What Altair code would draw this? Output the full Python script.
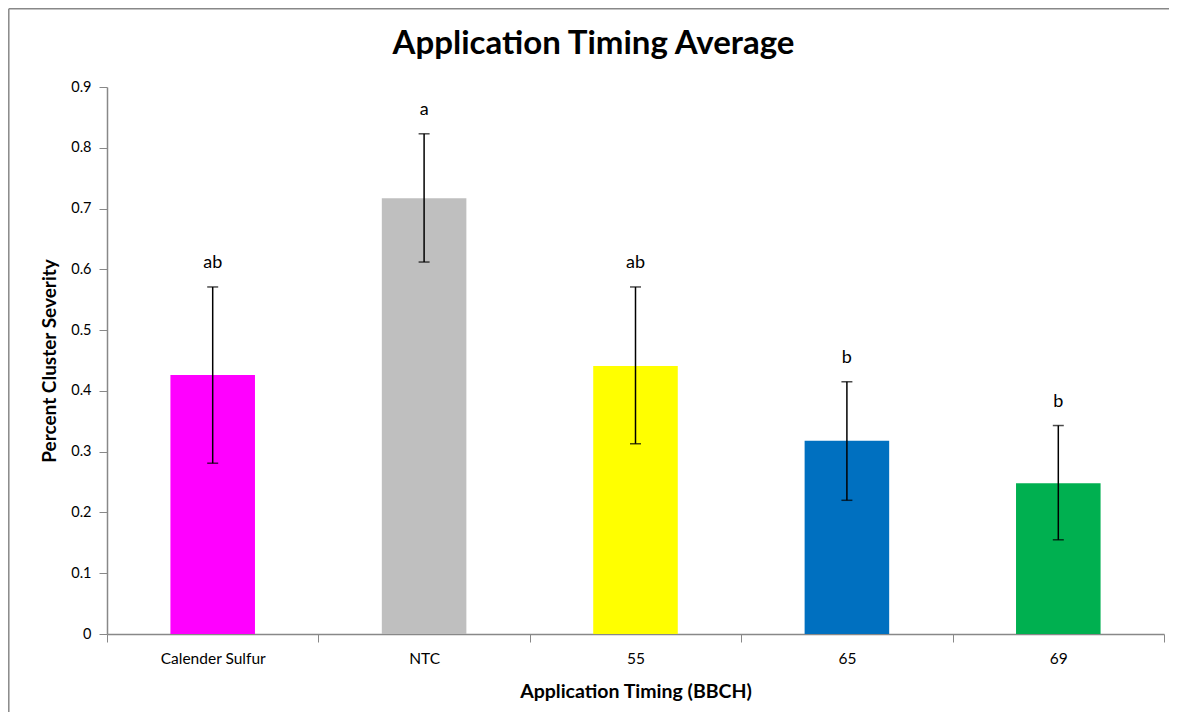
import altair as alt
import pandas as pd

categories = ["Calender Sulfur", "NTC", "55", "65", "69"]
means = [0.426, 0.717, 0.441, 0.318, 0.248]
err_low = [0.281, 0.612, 0.313, 0.220, 0.155]
err_high = [0.571, 0.823, 0.571, 0.415, 0.343]
letters = ["ab", "a", "ab", "b", "b"]
colors = ["#FF00FF", "#BFBFBF", "#FFFF00", "#0070C0", "#00B050"]
chart_title = "Application Timing Average"

df = pd.DataFrame({
    "cat": categories, "mean": means, "lo": err_low, "hi": err_high,
    "letter": letters, "color": colors,
})

FONT = "Lato"

x = alt.X("cat:N", sort=categories, title="Application Timing (BBCH)",
          scale=alt.Scale(paddingInner=0, paddingOuter=0),
          axis=alt.Axis(labelAngle=0, tickBand="extent", tickSize=8,
                        labelPadding=9, labelFontSize=15.5, labelColor="#000",
                        titleFontSize=19.5, titleFontWeight="bold", titlePadding=16,
                        domainColor="#888", tickColor="#888", domainWidth=1.5,
                        labelFont=FONT, titleFont=FONT, titleColor="#000"))
y = alt.Y("mean:Q", title="Percent Cluster Severity",
          scale=alt.Scale(domain=[0, 0.9], nice=False),
          axis=alt.Axis(values=[0, 0.1, 0.2, 0.3, 0.4, 0.5, 0.6, 0.7, 0.8, 0.9],
                        format=".1~f", grid=False, tickSize=8, labelPadding=8,
                        labelFontSize=14.5, labelColor="#000",
                        titleFontSize=19, titleFontWeight="bold", titlePadding=11,
                        domainColor="#888", tickColor="#888", domainWidth=1.5,
                        labelFont=FONT, titleFont=FONT, titleColor="#000"))

base = alt.Chart(df)

bars = base.mark_bar(width=alt.RelativeBandSize(0.4)).encode(
    x=x, y=y, color=alt.Color("color:N", scale=None))

rules = base.mark_rule(color="black", strokeWidth=1.5).encode(
    x=alt.X("cat:N", sort=categories), y="lo:Q", y2="hi:Q")

caps_lo = base.mark_tick(color="black", size=11, thickness=1.5).encode(
    x=alt.X("cat:N", sort=categories), y="lo:Q")
caps_hi = base.mark_tick(color="black", size=11, thickness=1.5).encode(
    x=alt.X("cat:N", sort=categories), y="hi:Q")

text = base.mark_text(dy=-24, fontSize=18, font=FONT, color="#000",
                      baseline="middle").encode(
    x=alt.X("cat:N", sort=categories), y="hi:Q", text="letter:N")

one = pd.DataFrame({"k": [0]})
frame_left = alt.Chart(one).mark_rule(
    stroke="#888", strokeWidth=1.5, clip=False).encode(
    x=alt.value(-98.2), y=alt.value(-78.2), y2=alt.value(625))
frame_top = alt.Chart(one).mark_rule(
    stroke="#888", strokeWidth=1.5, clip=False).encode(
    x=alt.value(-98.2), x2=alt.value(1062), y=alt.value(-78.2))

title_mark = alt.Chart(pd.DataFrame({"t": [chart_title]})).mark_text(
    fontSize=33, fontWeight="bold", font=FONT, color="#000",
    align="center", baseline="alphabetic", clip=False).encode(
    x=alt.value(486.5), y=alt.value(-33), text="t:N")

chart = alt.layer(frame_left, frame_top, bars, rules, caps_lo, caps_hi, text,
                  title_mark).properties(
    width=1057, height=547,
    autosize=alt.AutoSizeParams(type="none"),
    padding={"left": 99, "top": 79, "right": 5, "bottom": 86},
).configure_view(stroke=None)

chart.save("out.html", embed_options={"renderer": "svg", "actions": False})
